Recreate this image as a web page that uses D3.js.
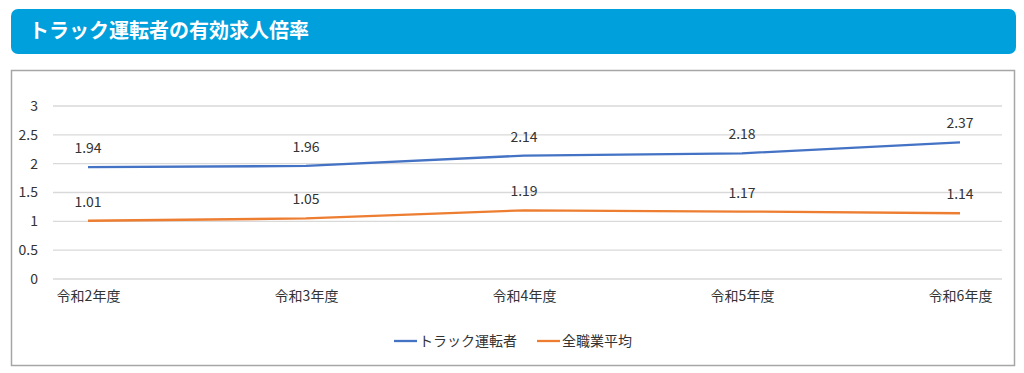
<!DOCTYPE html>
<html>
<head>
<meta charset="utf-8">
<script src="https://cdn.jsdelivr.net/npm/d3@7"></script>
<style>
  body { margin: 0; background: #fff; font-family: "Noto Sans CJK JP", "Noto Sans", sans-serif; }
</style>
</head>
<body>
<div id="chart"></div>
<script>
// data
var years = ["令和2年度", "令和3年度", "令和4年度", "令和5年度", "令和6年度"];
var truckDrivers = [1.94, 1.96, 2.14, 2.18, 2.37];
var allJobsAvg = [1.01, 1.05, 1.19, 1.17, 1.14];
var yTicks = [0, 0.5, 1, 1.5, 2, 2.5, 3];
var seriesNames = ["トラック運転者", "全職業平均"];
var colors = ["#4472C4", "#ED7D31"];

var W = 1024, H = 373;
var svg = d3.select("#chart").append("svg")
    .attr("width", W)
    .attr("height", H);

// title bar
svg.append("rect")
    .attr("x", 11).attr("y", 9)
    .attr("width", 1005).attr("height", 45)
    .attr("rx", 7)
    .attr("fill", "#00A0DC");
svg.append("text")
    .attr("x", 29).attr("y", 38)
    .attr("fill", "#fff")
    .attr("font-size", 20)
    .attr("font-weight", "bold")
    .text("トラック運転者の有効求人倍率");

// chart frame
svg.append("rect")
    .attr("x", 11.5).attr("y", 70.5)
    .attr("width", 1003).attr("height", 295)
    .attr("fill", "#fff")
    .attr("stroke", "#a6a6a6")
    .attr("stroke-width", 1.5);

var x = d3.scalePoint()
    .domain(years)
    .range([88, 960]);

var y = d3.scaleLinear()
    .domain([0, 3])
    .range([279, 106]);

// gridlines
svg.append("g").selectAll("line")
    .data(yTicks)
    .enter().append("line")
    .attr("x1", 53).attr("x2", 1002)
    .attr("y1", function(d) { return y(d); })
    .attr("y2", function(d) { return y(d); })
    .attr("stroke", "#d9d9d9")
    .attr("stroke-width", 1.3);

// y axis labels
var yAxis = svg.append("g")
    .attr("transform", "translate(38,0)")
    .call(d3.axisLeft(y).tickValues(yTicks).tickSize(0).tickPadding(0).tickFormat(d3.format("")));
yAxis.select(".domain").remove();
yAxis.selectAll("text")
    .attr("font-family", "'Noto Sans CJK JP', sans-serif")
    .attr("font-size", 14)
    .attr("fill", "#333");

// x axis labels
var xAxis = svg.append("g")
    .attr("transform", "translate(0,291)")
    .call(d3.axisBottom(x).tickSize(0).tickPadding(0));
xAxis.select(".domain").remove();
xAxis.selectAll("text")
    .attr("font-family", "'Noto Sans CJK JP', sans-serif")
    .attr("font-size", 14)
    .attr("fill", "#333");

var series = [truckDrivers, allJobsAvg];
var line = d3.line()
    .x(function(d, i) { return x(years[i]); })
    .y(function(d) { return y(d); });

series.forEach(function(vals, s) {
    svg.append("path")
        .datum(vals)
        .attr("d", line)
        .attr("fill", "none")
        .attr("stroke", colors[s])
        .attr("stroke-width", 2.3);

    svg.append("g").selectAll("text")
        .data(vals)
        .enter().append("text")
        .attr("x", function(d, i) { return x(years[i]); })
        .attr("y", function(d) { return y(d) - 14; })
        .attr("text-anchor", "middle")
        .attr("font-size", 14)
        .attr("fill", "#333")
        .text(function(d) { return d3.format(".2f")(d); });
});

// legend
var legend = svg.append("g");
var legendX = [394, 537];
seriesNames.forEach(function(name, s) {
    legend.append("line")
        .attr("x1", legendX[s]).attr("x2", legendX[s] + 23)
        .attr("y1", 341).attr("y2", 341)
        .attr("stroke", colors[s])
        .attr("stroke-width", 2.3);
    legend.append("text")
        .attr("x", legendX[s] + 25).attr("y", 346)
        .attr("font-size", 14)
        .attr("fill", "#333")
        .text(name);
});
</script>
</body>
</html>
